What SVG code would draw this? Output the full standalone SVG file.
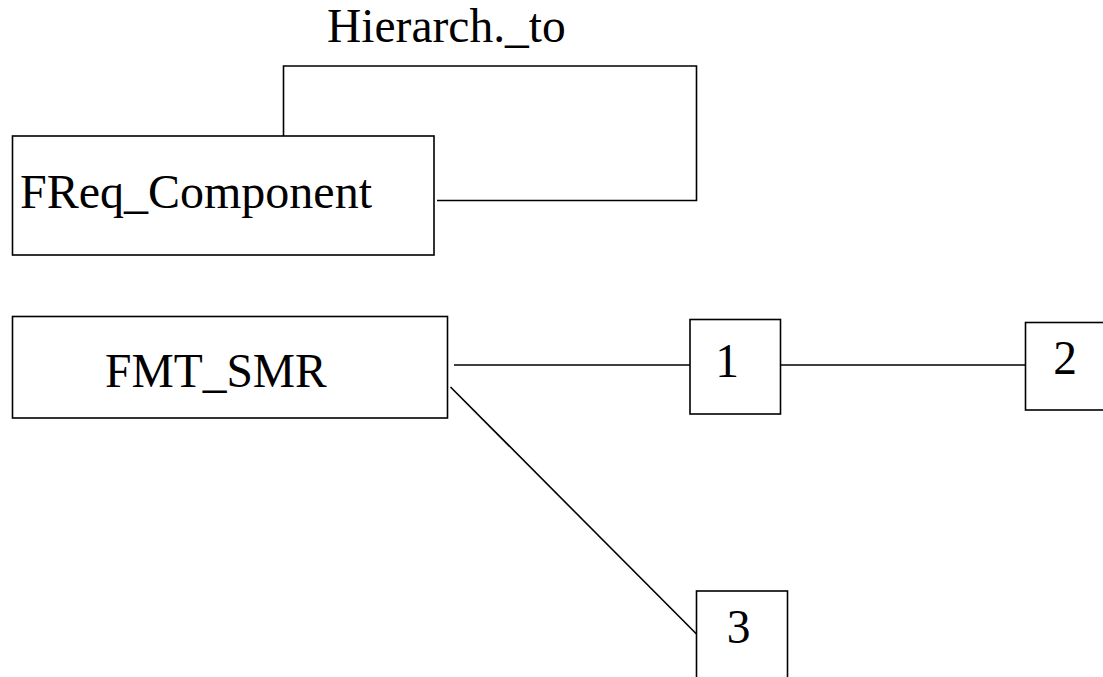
<svg xmlns="http://www.w3.org/2000/svg" width="1103" height="677" viewBox="0 0 1103 677">
  <style>
    .box { fill: #ffffff; stroke: #000000; stroke-width: 1.6; }
    .edge { fill: none; stroke: #000000; stroke-width: 1.6; }
    .label { font-family: "Liberation Serif", "Times New Roman", serif; font-size: 47.5px; fill: #000000; }
  </style>
  <rect x="0" y="0" width="1103" height="677" fill="#ffffff"/>

  <!-- connectors -->
  <g id="connectors">
    <!-- self relation on FReq_Component -->
    <polyline class="edge" points="283.5,136 283.5,66 696.5,66 696.5,200.5 437,200.5"/>
    <!-- FMT_SMR to 1 -->
    <line class="edge" x1="454" y1="365" x2="690" y2="365"/>
    <!-- 1 to 2 -->
    <line class="edge" x1="781" y1="365" x2="1025.5" y2="365"/>
    <!-- FMT_SMR to 3 -->
    <line class="edge" x1="450.5" y1="387" x2="696.5" y2="634"/>
  </g>

  <g id="label-hierarch">
    <text class="label" x="327" y="42">Hierarch._to</text>
  </g>

  <g id="node-freq-component">
    <rect class="box" x="12.5" y="136" width="421.5" height="119"/>
    <text class="label" x="20" y="207.5" style="font-size:48px">FReq_Component</text>
  </g>

  <g id="node-fmt-smr">
    <rect class="box" x="12.5" y="316.5" width="435" height="101.5"/>
    <text class="label" x="105" y="386.5">FMT_SMR</text>
  </g>

  <g id="node-1">
    <rect class="box" x="690" y="319.5" width="90.5" height="94.5"/>
    <text class="label" x="727" y="377" text-anchor="middle">1</text>
  </g>

  <g id="node-2">
    <rect class="box" x="1025.5" y="322.5" width="100" height="87.5"/>
    <text class="label" x="1065" y="374" text-anchor="middle">2</text>
  </g>

  <g id="node-3">
    <rect class="box" x="696.5" y="591" width="91" height="100"/>
    <text class="label" x="738.5" y="643" text-anchor="middle">3</text>
  </g>
</svg>
